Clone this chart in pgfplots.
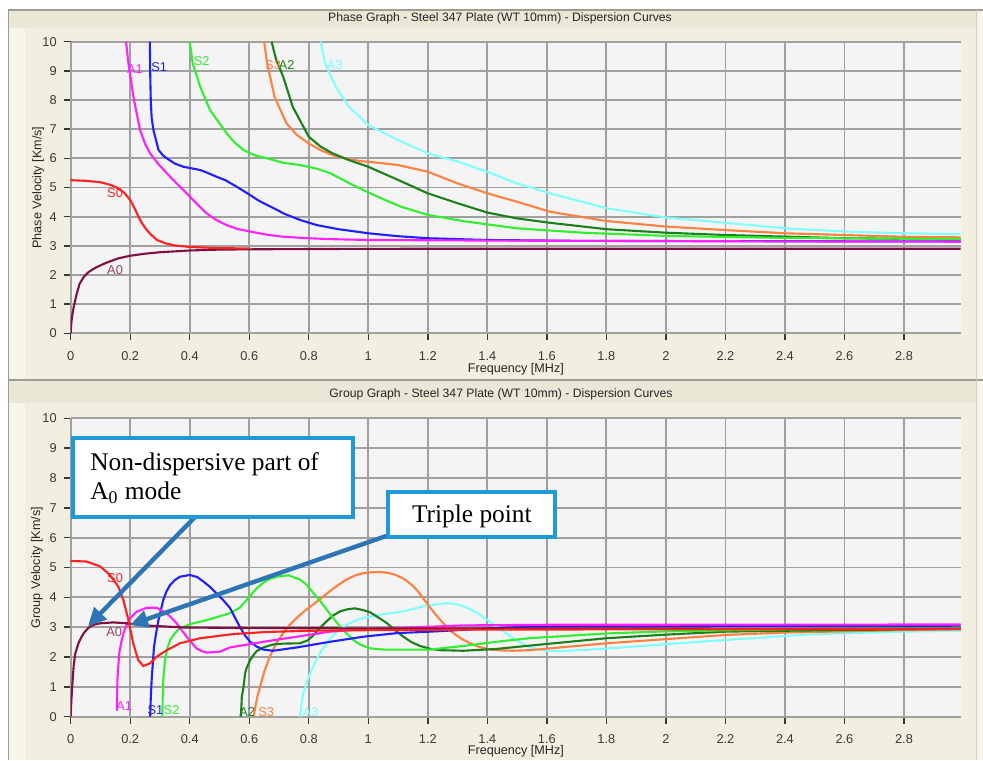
\documentclass[border=0pt]{standalone}
\usepackage{fontspec}
\setmainfont{Liberation Sans}
\newfontfamily\timesfont{Liberation Serif}
\usepackage{pgfplots}
\pgfplotsset{compat=1.18}
\usetikzlibrary{arrows.meta}

\definecolor{frameBg}{HTML}{F2EFE0}
\definecolor{frameLight}{HTML}{F8F6EA}
\definecolor{bandBg}{HTML}{EAE7D7}
\definecolor{frameLine}{HTML}{9E9D8E}
\definecolor{plotBg}{HTML}{F4F4F4}
\definecolor{gridC}{HTML}{A0A0A0}
\definecolor{tickC}{HTML}{383838}
\definecolor{cA0}{HTML}{801040}
\definecolor{cS0}{HTML}{FF2020}
\definecolor{cA1}{HTML}{FF20FF}
\definecolor{cS1}{HTML}{2020FF}
\definecolor{cS2}{HTML}{30F030}
\definecolor{cA2}{HTML}{1A801A}
\definecolor{cS3}{HTML}{FF8040}
\definecolor{cA3}{HTML}{80FFFF}
\definecolor{boxC}{HTML}{1E9AD6}
\definecolor{arrC}{HTML}{2E75B6}

\pgfplotsset{dispstyle/.style={
  scale only axis, width=445.15pt, anchor=south west,
  xmin=0, xmax=2.9916, ymin=0, ymax=10,
  xtick={0,0.2,0.4,0.6,0.8,1,1.2,1.4,1.6,1.8,2,2.2,2.4,2.6,2.8},
  xticklabels={0,0.2,0.4,0.6,0.8,1,1.2,1.4,1.6,1.8,2,2.2,2.4,2.6,2.8},
  ytick={0,1,2,3,4,5,6,7,8,9,10},
  grid=major, major grid style={gridC, line width=0.9pt},
  axis background/.style={fill=plotBg},
  axis lines=left, axis line style={-, gridC, line width=0.9pt},
  tick align=outside, major tick length=3.5pt, tick style={tickC, line width=0.7pt},
  ticklabel style={font=\fontsize{6.4}{7}\selectfont, text=tickC},
  xticklabel style={yshift=-2.1pt},
  label style={font=\fontsize{6.3}{7}\selectfont, text=black!85},
  every axis plot/.append style={line width=1.05pt, no markers},
  /pgf/number format/assume math mode=true,
}}
\tikzset{clab/.style={font=\fontsize{6.4}{7}\selectfont, inner sep=0pt}}

\begin{document}
\begin{tikzpicture}
\path[use as bounding box] (0,0) rectangle (491.5pt,380pt);
\fill[white] (0,0) rectangle (491.5pt,380pt);
% frame
\fill[frameBg] (4pt,0) rectangle (491.5pt,375pt);
\fill[frameLight] (4pt,0) rectangle (12.5pt,366pt);
\fill[bandBg] (4pt,366pt) rectangle (491.5pt,375pt);
\fill[bandBg] (4pt,178.5pt) rectangle (491.5pt,189.8pt);
\fill[frameLight] (488pt,0) rectangle (491.5pt,375pt);
\draw[frameLine, line width=0.9pt] (4.2pt,0) -- (4.2pt,375pt) -- (491.5pt,375pt);
\draw[frameLine, line width=0.8pt] (4.2pt,190pt) -- (491.5pt,190pt);
\draw[frameLine!50, line width=0.5pt] (488pt,0) -- (488pt,375pt);
\node[font=\fontsize{6.1}{7}\selectfont, text=black!85] at (250pt,370.6pt) {Phase Graph - Steel 347 Plate (WT 10mm) - Dispersion Curves};
\node[font=\fontsize{6.1}{7}\selectfont, text=black!85] at (250.5pt,182.6pt) {Group Graph - Steel 347 Plate (WT 10mm) - Dispersion Curves};

% ---------------- Phase velocity ----------------
\begin{axis}[dispstyle, at={(35.35pt,213.35pt)}, height=145.8pt,
  xlabel={Frequency [MHz]}, ylabel={Phase Velocity [Km/s]},
  x label style={at={(axis description cs:0.5,-0.1235)}, anchor=center},
  y label style={at={(axis description cs:-0.0367,0.5)}, anchor=center}]
\addplot[cA3] coordinates {(0.84,10) (0.855,9.26) (0.89,8.46) (0.935,7.77) (1.0,7.14) (1.1,6.63) (1.2,6.17) (1.3,5.89) (1.4,5.54) (1.5,5.14) (1.61,4.8) (1.8,4.29) (2.0,3.97) (2.2,3.79) (2.4,3.6) (2.6,3.49) (2.8,3.43) (2.99,3.4)};
\addplot[cS3] coordinates {(0.65,10) (0.66,9.26) (0.685,8.11) (0.725,7.2) (0.76,6.8) (0.8,6.51) (0.84,6.28) (0.88,6.11) (0.92,6.0) (0.97,5.91) (1.03,5.85) (1.1,5.77) (1.2,5.54) (1.3,5.14) (1.4,4.8) (1.5,4.51) (1.61,4.17) (1.8,3.85) (2.0,3.66) (2.2,3.54) (2.4,3.43) (2.6,3.37) (2.8,3.31) (2.99,3.29)};
\addplot[cA2] coordinates {(0.675,10) (0.69,9.4) (0.714,8.8) (0.746,7.77) (0.8,6.74) (0.84,6.4) (0.88,6.17) (0.935,5.94) (1.0,5.71) (1.1,5.26) (1.2,4.8) (1.3,4.46) (1.4,4.14) (1.5,3.94) (1.61,3.79) (1.8,3.57) (2.0,3.45) (2.2,3.37) (2.6,3.26) (2.99,3.22)};
\addplot[cS2] coordinates {(0.40,10) (0.41,9.26) (0.435,8.46) (0.468,7.66) (0.5,7.2) (0.524,6.86) (0.55,6.55) (0.58,6.29) (0.62,6.1) (0.66,6.0) (0.714,5.85) (0.77,5.77) (0.825,5.65) (0.872,5.49) (0.915,5.26) (0.955,5.05) (0.994,4.86) (1.05,4.6) (1.11,4.34) (1.2,4.06) (1.33,3.83) (1.5,3.6) (1.72,3.45) (2.0,3.34) (2.4,3.27) (2.99,3.23)};
\addplot[cS1] coordinates {(0.266,10) (0.267,9) (0.269,8) (0.272,7.4) (0.278,6.97) (0.295,6.29) (0.31,6.1) (0.323,6.0) (0.35,5.82) (0.379,5.71) (0.41,5.65) (0.435,5.6) (0.46,5.5) (0.49,5.37) (0.52,5.25) (0.547,5.09) (0.575,4.92) (0.603,4.74) (0.63,4.56) (0.66,4.4) (0.69,4.25) (0.715,4.11) (0.77,3.89) (0.827,3.71) (0.9,3.57) (1.0,3.43) (1.1,3.33) (1.2,3.26) (1.4,3.2) (1.7,3.17) (2.2,3.16) (2.99,3.15)};
\addplot[cA1] coordinates {(0.186,10) (0.194,9.26) (0.211,8.1) (0.233,6.97) (0.25,6.5) (0.267,6.17) (0.295,5.8) (0.323,5.49) (0.355,5.15) (0.39,4.8) (0.42,4.48) (0.457,4.11) (0.49,3.88) (0.524,3.71) (0.56,3.58) (0.603,3.49) (0.66,3.38) (0.715,3.31) (0.8,3.26) (0.87,3.23) (1.0,3.2) (1.4,3.18) (2.0,3.16) (2.99,3.14)};
\addplot[cA0] coordinates {(0,0) (0.002,0.35) (0.005,0.6) (0.01,0.9) (0.02,1.35) (0.03,1.7) (0.045,1.95) (0.06,2.1) (0.08,2.23) (0.1,2.33) (0.12,2.42) (0.16,2.57) (0.2,2.66) (0.25,2.73) (0.3,2.78) (0.4,2.84) (0.5,2.87) (0.6,2.88) (0.8,2.89) (1.2,2.9) (2.99,2.9)};
\addplot[cS0] coordinates {(0,5.25) (0.05,5.23) (0.1,5.18) (0.13,5.1) (0.155,5.0) (0.18,4.82) (0.2,4.57) (0.21,4.38) (0.22,4.17) (0.23,3.95) (0.24,3.77) (0.255,3.55) (0.27,3.38) (0.29,3.2) (0.32,3.08) (0.345,3.02) (0.4,2.96) (0.5,2.92) (0.6,2.91)};
\node[clab, text=cA1] at (axis cs:0.216,9.05) {A1};
\node[clab, text=cS1] at (axis cs:0.297,9.12) {S1};
\node[clab, text=cS2] at (axis cs:0.44,9.35) {S2};
\node[clab, text=cS3] at (axis cs:0.68,9.2) {S3};
\node[clab, text=cA2] at (axis cs:0.726,9.2) {A2};
\node[clab, text=cA3] at (axis cs:0.888,9.2) {A3};
\node[clab, text=cS0] at (axis cs:0.149,4.8) {S0};
\node[clab, text=cA0!80] at (axis cs:0.149,2.17) {A0};
\end{axis}

% ---------------- Group velocity ----------------
\begin{axis}[dispstyle, at={(35.35pt,21.65pt)}, height=149.2pt,
  xlabel={Frequency [MHz]}, ylabel={Group Velocity [Km/s]},
  x label style={at={(axis description cs:0.5,-0.115)}, anchor=center},
  y label style={at={(axis description cs:-0.0379,0.5)}, anchor=center}]
\addplot[cA3] coordinates {(0.77,0) (0.775,0.4) (0.781,0.77) (0.792,1.1) (0.804,1.44) (0.82,1.8) (0.837,2.12) (0.86,2.45) (0.882,2.74) (0.905,2.93) (0.927,3.08) (0.955,3.21) (0.983,3.31) (1.039,3.42) (1.118,3.53) (1.185,3.7) (1.263,3.81) (1.3,3.76) (1.319,3.7) (1.347,3.58) (1.375,3.42) (1.403,3.22) (1.43,3.02) (1.46,2.82) (1.487,2.63) (1.515,2.47) (1.54,2.34) (1.57,2.26) (1.6,2.21) (1.65,2.2) (1.8,2.28) (2.0,2.43) (2.2,2.57) (2.45,2.74) (2.6,2.8) (2.8,2.85) (2.99,2.88)};
\addplot[cS3] coordinates {(0.615,0) (0.62,0.3) (0.628,0.7) (0.636,0.99) (0.65,1.5) (0.669,2.01) (0.69,2.45) (0.714,2.8) (0.735,3.07) (0.759,3.31) (0.787,3.55) (0.815,3.76) (0.843,3.98) (0.871,4.21) (0.9,4.42) (0.927,4.6) (0.955,4.73) (0.983,4.81) (1.01,4.84) (1.039,4.85) (1.067,4.82) (1.095,4.74) (1.123,4.6) (1.151,4.38) (1.175,4.1) (1.196,3.81) (1.22,3.5) (1.241,3.25) (1.265,3.0) (1.286,2.8) (1.315,2.6) (1.342,2.46) (1.375,2.33) (1.409,2.25) (1.45,2.22) (1.487,2.21) (1.543,2.23) (1.6,2.28) (1.8,2.46) (2.0,2.6) (2.2,2.74) (2.4,2.82) (2.6,2.86) (2.8,2.9) (2.99,2.93)};
\addplot[cA2] coordinates {(0.572,0) (0.575,0.67) (0.58,0.95) (0.586,1.45) (0.59,1.6) (0.603,1.9) (0.613,2.05) (0.625,2.2) (0.647,2.32) (0.68,2.42) (0.714,2.45) (0.77,2.46) (0.795,2.55) (0.815,2.72) (0.838,2.98) (0.86,3.2) (0.883,3.4) (0.905,3.53) (0.93,3.6) (0.955,3.63) (0.98,3.58) (1.006,3.5) (1.03,3.35) (1.062,3.14) (1.09,2.9) (1.118,2.68) (1.145,2.5) (1.174,2.37) (1.21,2.27) (1.241,2.23) (1.319,2.21) (1.43,2.27) (1.54,2.38) (1.8,2.63) (2.0,2.75) (2.2,2.85) (2.4,2.88) (2.99,2.95)};
\addplot[cS2] coordinates {(0.308,0) (0.309,0.6) (0.311,1.23) (0.317,1.9) (0.325,2.3) (0.334,2.57) (0.35,2.8) (0.367,2.96) (0.39,3.06) (0.412,3.13) (0.45,3.22) (0.479,3.3) (0.535,3.47) (0.568,3.65) (0.602,4.04) (0.625,4.3) (0.647,4.49) (0.67,4.62) (0.692,4.69) (0.731,4.74) (0.77,4.6) (0.793,4.42) (0.815,4.15) (0.838,3.88) (0.86,3.59) (0.883,3.3) (0.905,3.02) (0.927,2.8) (0.95,2.57) (0.972,2.42) (1.006,2.29) (1.05,2.25) (1.095,2.25) (1.207,2.25) (1.319,2.37) (1.43,2.51) (1.54,2.63) (1.8,2.79) (2.0,2.86) (2.4,2.93) (2.99,2.99)};
\addplot[cS1] coordinates {(0.267,0) (0.269,0.6) (0.272,1.23) (0.276,1.8) (0.28,2.35) (0.287,2.8) (0.295,3.24) (0.311,3.91) (0.322,4.2) (0.334,4.41) (0.35,4.58) (0.367,4.69) (0.4,4.75) (0.425,4.68) (0.446,4.53) (0.468,4.35) (0.49,4.13) (0.513,3.9) (0.535,3.65) (0.552,3.32) (0.569,3.0) (0.586,2.72) (0.603,2.51) (0.625,2.35) (0.647,2.25) (0.68,2.21) (0.759,2.32) (0.871,2.51) (0.983,2.68) (1.095,2.8) (1.207,2.85) (1.319,2.91) (1.43,2.97) (1.54,3.02) (1.8,3.04) (2.99,3.05)};
\addplot[cA1] coordinates {(0.155,0.2) (0.156,0.8) (0.157,1.23) (0.16,1.7) (0.163,2.12) (0.17,2.5) (0.177,2.79) (0.188,3.07) (0.2,3.3) (0.222,3.52) (0.255,3.65) (0.289,3.65) (0.323,3.46) (0.34,3.3) (0.356,3.13) (0.373,2.9) (0.39,2.68) (0.407,2.47) (0.423,2.29) (0.44,2.2) (0.457,2.15) (0.502,2.18) (0.535,2.32) (0.647,2.51) (0.759,2.68) (0.871,2.85) (0.983,2.93) (1.095,2.97) (1.319,3.06) (1.6,3.08) (2.99,3.09)};
\addplot[cA0] coordinates {(0,0) (0.002,0.5) (0.005,1.0) (0.01,1.7) (0.015,2.1) (0.026,2.46) (0.035,2.65) (0.043,2.79) (0.055,2.93) (0.065,3.02) (0.08,3.09) (0.1,3.13) (0.143,3.16) (0.187,3.13) (0.22,3.09) (0.267,3.05) (0.38,2.99) (0.6,2.97) (1.0,2.96) (2.99,2.95)};
\addplot[cS0] coordinates {(0,5.22) (0.054,5.2) (0.1,5.03) (0.132,4.75) (0.16,4.36) (0.177,3.91) (0.194,3.24) (0.21,2.46) (0.227,1.9) (0.244,1.70) (0.267,1.79) (0.289,2.01) (0.323,2.23) (0.367,2.46) (0.435,2.63) (0.546,2.77) (0.66,2.84) (0.8,2.88) (1.0,2.9) (1.4,2.92) (2.99,2.94)};
\node[clab, text=cS0] at (axis cs:0.149,4.64) {S0};
\node[clab, text=cA0!80] at (axis cs:0.146,2.85) {A0};
\node[clab, text=cA1] at (axis cs:0.18,0.34) {A1};
\node[clab, text=cS1] at (axis cs:0.285,0.22) {S1};
\node[clab, text=cS2] at (axis cs:0.339,0.22) {S2};
\node[clab, text=cA2] at (axis cs:0.593,0.17) {A2};
\node[clab, text=cS3] at (axis cs:0.657,0.17) {S3};
\node[clab, text=cA3] at (axis cs:0.806,0.17) {A3};
\end{axis}

% ---------------- callouts ----------------
\draw[arrC, line width=2.2pt, -{Triangle[length=9pt,width=8.5pt]}] (99pt,123pt) -- (44pt,67pt);
\draw[arrC, line width=2.2pt, -{Triangle[length=9pt,width=8.5pt]}] (196pt,113pt) -- (65pt,67.5pt);
\filldraw[fill=white, draw=boxC, line width=2pt] (36.5pt,121.5pt) rectangle (176.5pt,161pt);
\node[anchor=base west, inner sep=0pt, font=\timesfont\fontsize{12.7}{14}\selectfont] at (45pt,144.6pt) {Non-dispersive part of};
\node[anchor=base west, inner sep=0pt, font=\timesfont\fontsize{12.7}{14}\selectfont] at (45pt,130pt) {A\textsubscript{0} mode};
\filldraw[fill=white, draw=boxC, line width=2pt] (194pt,111.5pt) rectangle (277.5pt,134pt);
\node[anchor=base west, inner sep=0pt, font=\timesfont\fontsize{12.7}{14}\selectfont] at (205.8pt,118.5pt) {Triple point};
\end{tikzpicture}
\end{document}
